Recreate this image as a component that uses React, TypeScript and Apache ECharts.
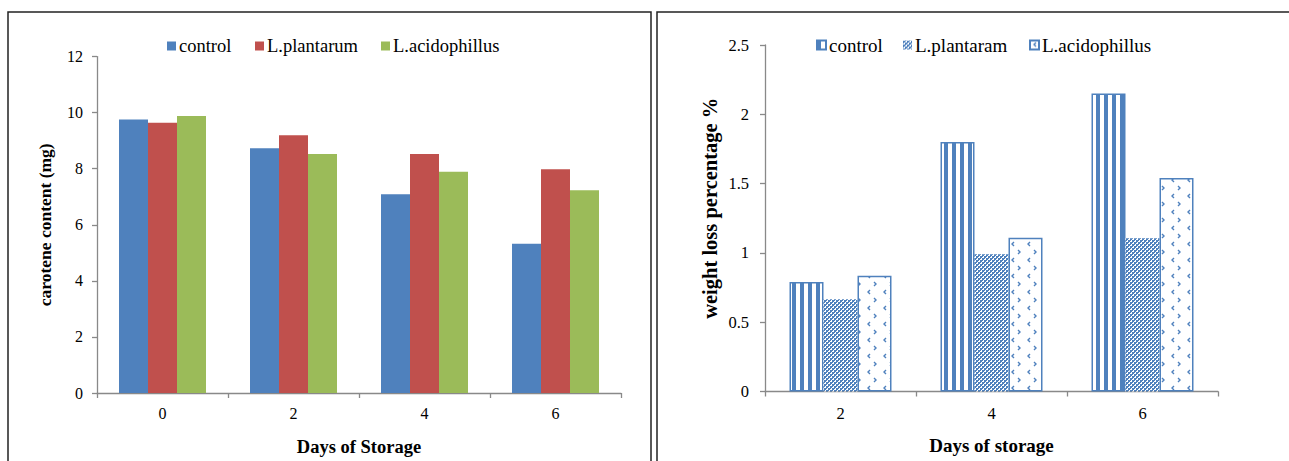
import React, { useEffect, useRef } from 'react';
import * as echarts from 'echarts';

// ---- Left chart data (carotene content) ----
const leftDays = ['0', '2', '4', '6'];
const leftControl = [9.76, 8.73, 7.09, 5.32];
const leftPlantarum = [9.64, 9.19, 8.53, 7.98];
const leftAcidophillus = [9.88, 8.53, 7.89, 7.23];

// ---- Right chart data (weight loss percentage) ----
const rightDays = ['2', '4', '6'];
const rightControl = [0.79, 1.8, 2.15];
const rightPlantaram = [0.665, 0.99, 1.105];
const rightAcidophillus = [0.835, 1.11, 1.54];

const FONT = "'Liberation Serif', 'Times New Roman', serif";
const AXIS_COLOR = '#898989';
const BLUE = '#4F81BD';
const RED = '#C0504D';
const GREEN = '#9BBB59';

function makeTile(w: number, h: number, draw: (ctx: CanvasRenderingContext2D) => void) {
  const c = document.createElement('canvas');
  c.width = w;
  c.height = h;
  const ctx = c.getContext('2d')!;
  ctx.fillStyle = '#ffffff';
  ctx.fillRect(0, 0, w, h);
  draw(ctx);
  return { image: c.toDataURL(), repeat: 'repeat', imageWidth: w, imageHeight: h } as any;
}

function axisCommon() {
  return {
    axisLine: { show: true, lineStyle: { color: AXIS_COLOR, width: 1.3 } },
    axisTick: { show: true, length: 5, lineStyle: { color: AXIS_COLOR, width: 1.3 } },
    splitLine: { show: false },
  };
}

function legendItem(name: string, left: number, top: number, fontSize: number) {
  return {
    data: [name],
    left,
    top,
    padding: 0,
    icon: 'rect',
    itemWidth: 9,
    itemHeight: 9,
    selectedMode: false,
    textStyle: { fontSize, fontFamily: FONT, color: '#000', lineHeight: 20, padding: [0, 0, 0, -2] },
  };
}

export default function App() {
  const leftRef = useRef<HTMLDivElement>(null);
  const rightRef = useRef<HTMLDivElement>(null);

  useEffect(() => {
    const left = echarts.init(leftRef.current!, null, { renderer: 'svg' });
    const right = echarts.init(rightRef.current!, null, { renderer: 'svg' });

    const stripes = makeTile(8, 8, (ctx) => {
      ctx.fillStyle = BLUE;
      ctx.fillRect(0, 0, 4, 8);
    });
    const checker = makeTile(4, 4, (ctx) => {
      ctx.fillStyle = BLUE;
      ctx.fillRect(0, 0, 2, 2);
      ctx.fillRect(2, 2, 2, 2);
      ctx.fillRect(2, 0, 1, 1);
      ctx.fillRect(0, 2, 1, 1);
    });
    const wave = makeTile(16, 16, (ctx) => {
      ctx.strokeStyle = BLUE;
      ctx.lineWidth = 1.4;
      ctx.beginPath();
      ctx.moveTo(6, 2);
      ctx.lineTo(4, 4);
      ctx.lineTo(6, 6);
      ctx.moveTo(10, 10);
      ctx.lineTo(12, 12);
      ctx.lineTo(10, 14);
      ctx.stroke();
    });

    left.setOption({
      animation: false,
      graphic: [
        {
          type: 'rect',
          shape: { x: 8, y: 12, width: 643, height: 480 },
          style: { fill: 'none', stroke: '#222', lineWidth: 1.5 },
          silent: true,
        },
        {
          type: 'rect',
          shape: { x: 657, y: 12, width: 700, height: 480 },
          style: { fill: 'none', stroke: '#222', lineWidth: 1.5 },
          silent: true,
        },
      ],
      legend: [
        legendItem('control', 167, 36, 18.5),
        legendItem('L.plantarum', 255, 36, 18.5),
        legendItem('L.acidophillus', 381, 36, 18.5),
      ],
      grid: { left: 97, top: 56.6, width: 524, height: 336.7 },
      xAxis: {
        type: 'category',
        data: leftDays,
        ...axisCommon(),
        axisLabel: { margin: 12, fontSize: 16, color: '#000', fontFamily: FONT },
        name: 'Days of Storage',
        nameLocation: 'middle',
        nameGap: 44,
        nameTextStyle: { fontWeight: 'bold', fontSize: 18.5, color: '#000', fontFamily: FONT },
      },
      yAxis: {
        type: 'value',
        min: 0,
        max: 12,
        interval: 2,
        ...axisCommon(),
        axisLabel: { margin: 14, fontSize: 16, color: '#000', fontFamily: FONT },
        name: 'carotene content (mg)',
        nameLocation: 'middle',
        nameGap: 43,
        nameTextStyle: { fontWeight: 'bold', fontSize: 17.5, color: '#000', fontFamily: FONT },
      },
      series: [
        { name: 'control', type: 'bar', data: leftControl, barWidth: 29, barGap: '0%', itemStyle: { color: BLUE } },
        { name: 'L.plantarum', type: 'bar', data: leftPlantarum, barWidth: 29, barGap: '0%', itemStyle: { color: RED } },
        { name: 'L.acidophillus', type: 'bar', data: leftAcidophillus, barWidth: 29, barGap: '0%', itemStyle: { color: GREEN } },
      ],
    });

    right.setOption({
      animation: false,
      legend: [
        legendItem('control', 816, 35, 19),
        legendItem('L.plantaram', 903, 35, 19),
        legendItem('L.acidophillus', 1029, 35, 19),
      ],
      grid: { left: 765, top: 45, width: 453, height: 346.5 },
      xAxis: {
        type: 'category',
        data: rightDays,
        ...axisCommon(),
        axisLabel: { margin: 13, fontSize: 16.5, color: '#000', fontFamily: FONT },
        name: 'Days of storage',
        nameLocation: 'middle',
        nameGap: 44,
        nameTextStyle: { fontWeight: 'bold', fontSize: 19, color: '#000', fontFamily: FONT },
      },
      yAxis: {
        type: 'value',
        min: 0,
        max: 2.5,
        interval: 0.5,
        ...axisCommon(),
        axisLabel: { margin: 16, fontSize: 16.5, color: '#000', fontFamily: FONT },
        name: 'weight loss percentage %',
        nameLocation: 'middle',
        nameGap: 45,
        nameTextStyle: {
          fontWeight: 'bold',
          fontSize: 20.5,
          color: '#000',
          fontFamily: FONT,
          padding: [0, 0, 0, 20],
        },
      },
      series: [
        {
          name: 'control',
          type: 'bar',
          data: rightControl,
          barWidth: 34,
          barGap: '0%',
          itemStyle: { color: stripes, borderColor: BLUE, borderWidth: 1.5 },
        },
        {
          name: 'L.plantaram',
          type: 'bar',
          data: rightPlantaram,
          barWidth: 34,
          barGap: '0%',
          itemStyle: { color: checker, borderWidth: 0 },
        },
        {
          name: 'L.acidophillus',
          type: 'bar',
          data: rightAcidophillus,
          barWidth: 34,
          barGap: '0%',
          itemStyle: { color: wave, borderColor: BLUE, borderWidth: 1.5 },
        },
      ],
    });

    return () => {
      left.dispose();
      right.dispose();
    };
  }, []);

  const boxStyle: React.CSSProperties = {
    position: 'fixed',
    left: 0,
    top: 0,
    width: 1289,
    height: 461,
  };

  return (
    <div style={{ position: 'fixed', left: 0, top: 0, width: 1289, height: 461, background: '#fff' }}>
      <div ref={leftRef} style={boxStyle} />
      <div ref={rightRef} style={boxStyle} />
    </div>
  );
}
